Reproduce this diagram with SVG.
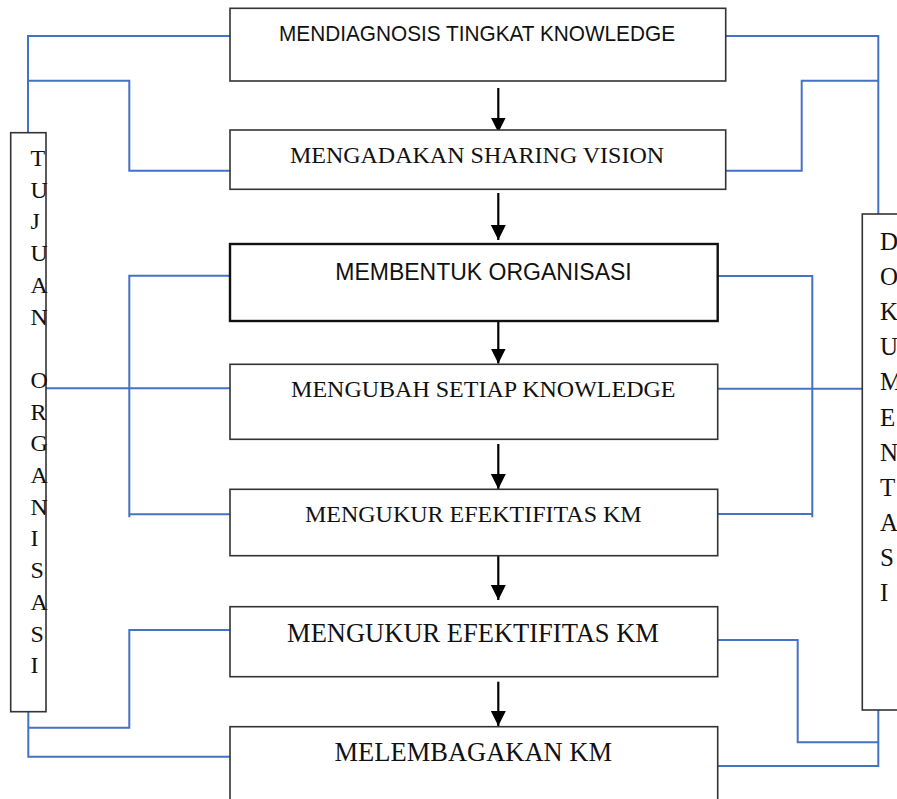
<svg xmlns="http://www.w3.org/2000/svg" width="897" height="799" viewBox="0 0 897 799">
<style>
.box{fill:#fff;stroke:#333;stroke-width:1.6}
.thick{stroke:#111;stroke-width:2.4}
.sans{font-family:"Liberation Sans",Arial,sans-serif;fill:#111}
.serif{font-family:"Liberation Serif","Times New Roman",serif;fill:#111}
.mid{text-anchor:middle}
.link{fill:none;stroke:#4472C4;stroke-width:2}
.arrow{stroke:#000;stroke-width:2.2;marker-end:url(#ah)}
.vl{font-size:24px}
</style>
<defs>
<marker id="ah" markerUnits="userSpaceOnUse" markerWidth="16" markerHeight="16" refX="15" refY="7.5" orient="auto">
<path d="M0,0 L15,7.5 L0,15 z" fill="#000"/>
</marker>
</defs>
<rect width="897" height="799" fill="#fff"/>

<g id="connectors">
<polyline class="link" points="230,36 28,36 28,132"/>
<polyline class="link" points="28,80.7 129.3,80.7 129.3,170.7 230,170.7"/>
<polyline class="link" points="230,275.7 129.3,275.7 129.3,517.3"/>
<line class="link" x1="129.3" y1="514.3" x2="230" y2="514.3"/>
<line class="link" x1="46" y1="388.3" x2="230" y2="388.3"/>
<polyline class="link" points="28.3,706.7 28.3,756.7 230,756.7"/>
<polyline class="link" points="28.3,727.7 129.3,727.7 129.3,630 230,630"/>

<polyline class="link" points="726,36 878.3,36 878.3,215"/>
<polyline class="link" points="878.3,80.7 801.7,80.7 801.7,170.7 726,170.7"/>
<polyline class="link" points="718,276 812.3,276 812.3,517.3"/>
<line class="link" x1="718" y1="514" x2="812.3" y2="514"/>
<line class="link" x1="718" y1="388.7" x2="862" y2="388.7"/>
<polyline class="link" points="718,640 797.7,640 797.7,742.3 878.3,742.3"/>
<polyline class="link" points="878.3,706 878.3,766 718,766"/>

<line class="arrow" x1="498.3" y1="88" x2="498.3" y2="132.5"/>
<line class="arrow" x1="498.3" y1="193" x2="498.3" y2="240"/>
<line class="arrow" x1="498.3" y1="319" x2="498.3" y2="363.5"/>
<line class="arrow" x1="498.3" y1="444" x2="498.3" y2="489"/>
<line class="arrow" x1="498.3" y1="554" x2="498.3" y2="600"/>
<line class="arrow" x1="498.3" y1="681.7" x2="498.3" y2="726"/>
</g>

<g id="n1">
<rect class="box" x="230" y="8.3" width="495.7" height="72.7"/>
<text class="sans mid" x="477" y="41" font-size="22" textLength="396" lengthAdjust="spacingAndGlyphs">MENDIAGNOSIS TINGKAT KNOWLEDGE</text>
</g>
<g id="n2">
<rect class="box" x="230" y="130" width="495.7" height="59.3"/>
<text class="serif mid" x="477" y="163" font-size="24">MENGADAKAN SHARING VISION</text>
</g>
<g id="n3">
<rect class="box thick" x="230" y="244" width="487.7" height="77"/>
<text class="sans mid" x="483.5" y="280" font-size="23">MEMBENTUK ORGANISASI</text>
</g>
<g id="n4">
<rect class="box" x="230" y="364.3" width="487.7" height="75"/>
<text class="serif mid" x="483.3" y="396.5" font-size="24">MENGUBAH SETIAP KNOWLEDGE</text>
</g>
<g id="n5">
<rect class="box" x="230" y="489.3" width="487.7" height="66.4"/>
<text class="serif mid" x="473.3" y="521.5" font-size="24">MENGUKUR EFEKTIFITAS KM</text>
</g>
<g id="n6">
<rect class="box" x="230" y="606.7" width="487.7" height="70"/>
<text class="serif mid" x="473" y="641.5" font-size="26.5">MENGUKUR EFEKTIFITAS KM</text>
</g>
<g id="n7">
<rect class="box" x="230" y="726.7" width="487.7" height="90"/>
<text class="serif mid" x="473.3" y="761" font-size="26.5">MELEMBAGAKAN KM</text>
</g>

<g id="tujuan">
<rect class="box" x="10.7" y="132.7" width="35.3" height="579"/>
<text class="serif vl" x="30.5" y="166">T</text>
<text class="serif vl" x="30.5" y="197.7">U</text>
<text class="serif vl" x="30.5" y="229.4">J</text>
<text class="serif vl" x="30.5" y="261.1">U</text>
<text class="serif vl" x="30.5" y="292.8">A</text>
<text class="serif vl" x="30.5" y="324.5">N</text>
<text class="serif vl" x="30.5" y="387.9">O</text>
<text class="serif vl" x="30.5" y="419.6">R</text>
<text class="serif vl" x="30.5" y="451.3">G</text>
<text class="serif vl" x="30.5" y="483">A</text>
<text class="serif vl" x="30.5" y="514.7">N</text>
<text class="serif vl" x="30.5" y="546.4">I</text>
<text class="serif vl" x="30.5" y="578.1">S</text>
<text class="serif vl" x="30.5" y="609.8">A</text>
<text class="serif vl" x="30.5" y="641.5">S</text>
<text class="serif vl" x="30.5" y="673.2">I</text>
</g>

<g id="dokumentasi">
<rect class="box" x="862.3" y="214" width="60" height="496"/>
<text class="serif" font-size="25" x="880" y="250">D</text>
<text class="serif" font-size="25" x="880" y="285.1">O</text>
<text class="serif" font-size="25" x="880" y="320.2">K</text>
<text class="serif" font-size="25" x="880" y="355.3">U</text>
<text class="serif" font-size="25" x="880" y="390.4">M</text>
<text class="serif" font-size="25" x="880" y="425.5">E</text>
<text class="serif" font-size="25" x="880" y="460.6">N</text>
<text class="serif" font-size="25" x="880" y="495.7">T</text>
<text class="serif" font-size="25" x="880" y="530.8">A</text>
<text class="serif" font-size="25" x="880" y="565.9">S</text>
<text class="serif" font-size="25" x="880" y="601">I</text>
</g>
</svg>
